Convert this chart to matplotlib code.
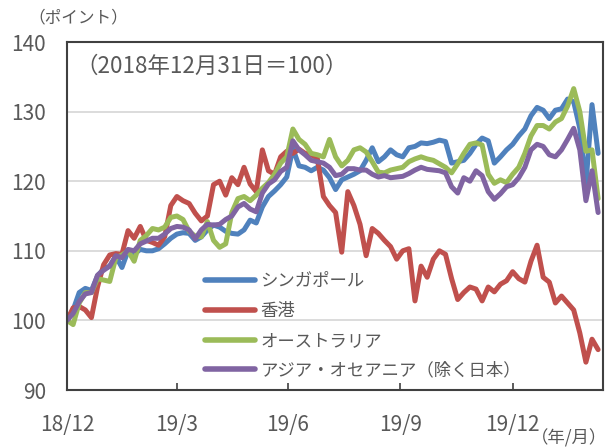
import matplotlib
matplotlib.use("Agg")
import matplotlib.pyplot as plt
import pandas as pd

plt.rcParams['font.family'] = ['Noto Sans CJK JP', 'DejaVu Sans']

dates = pd.date_range('2018-12-31', periods=88, freq='5D')

singapore = [100, 101.5, 104, 104.6, 104.3, 106.4, 107.4, 107.8, 109.2, 107.6,
             110, 109.5, 110.2, 110, 110, 110.3, 111, 111.8, 112.4, 112.6,
             112.5, 111.5, 112, 113, 113.7, 113.4, 112.8, 112.5, 112.4, 113,
             114.4, 114, 116.3, 117.8, 118.6, 119.5, 120.6, 124.7, 122.2, 122,
             121.5, 122, 121.6, 120.5, 118.8, 120.2, 120.6, 121, 121.5, 123,
             124.8, 122.8, 123.5, 124.5, 123.8, 123.5, 124.8, 125, 125.5, 125.4,
             125.6, 125.9, 125.7, 122.6, 122.8, 123, 124, 125.3, 126.2, 125.8,
             122.6, 123.5, 124.5, 125.3, 126.5, 127.5, 129.4, 130.6, 130.2, 129,
             130.2, 130.4, 131.8, 131.4, 127.6, 119.5, 131, 124]

hongkong = [100, 101.8, 102, 101.5, 100.4, 104.8, 108, 109.4, 109.6, 109.5,
            112.9, 111.8, 113.5, 111.5, 111.2, 110.8, 112, 116.5, 117.8, 117.2,
            116.8, 115.4, 114.3, 115, 119.5, 120, 118, 120.5, 119.5, 122,
            119.6, 118.5, 124.5, 121.5, 121, 123.5, 124.3, 124, 124.6, 124,
            123.8, 123.3, 117.8, 116.5, 115.5, 109.8, 118.5, 116.5, 113.8, 109.3,
            113.2, 112.5, 111.5, 110.6, 108.8, 110, 110.3, 102.8, 107.8, 106.2,
            108.8, 110, 109.5, 106, 103, 104, 104.8, 104.5, 102.8, 104.8,
            104.1, 105.2, 105.7, 107, 106, 105.5, 108.5, 110.8, 106.2, 105.5,
            102.5, 103.5, 102.5, 101.5, 98.2, 94, 97.3, 95.8]

australia = [100, 99.4, 102.5, 104, 104, 106, 105.8, 105.6, 109, 109.4,
             110, 108.5, 111.5, 112.2, 113.2, 113, 113.4, 114.8, 115, 114.5,
             112.8, 112.1, 112, 114.2, 111.5, 110.5, 111, 115.5, 117.5, 117.8,
             117.2, 118, 119, 119.8, 121, 122.6, 123.5, 127.5, 126, 125.3,
             124, 123.8, 123.5, 126, 123.5, 122.2, 123, 124.5, 124.8, 124.2,
             122.8, 121.3, 121.2, 121.6, 121.8, 122, 122.8, 123.2, 123.5, 123.2,
             123, 122.5, 122, 121.2, 122.5, 124, 125.3, 125.5, 125.2, 121,
             119.7, 120.2, 119.8, 121, 122, 124, 126.5, 128, 128, 127.5,
             128.5, 129, 130.8, 133.3, 130, 124.3, 124.5, 117.5]

asia_oceania = [100, 101, 102.7, 103.8, 104, 106.5, 107.2, 107.8, 109.3, 109,
                110.2, 110, 111, 111.4, 111.8, 111.8, 112.4, 113.2, 113.5, 113.4,
                113, 111.7, 113, 113.8, 113.7, 113.8, 114.5, 115, 116.3, 116.8,
                116, 115.6, 118.3, 119.6, 120.2, 121.4, 122, 125.8, 124.5, 123.8,
                123, 122.8, 122.6, 122, 120.8, 121, 121.8, 121.8, 121.6, 121.6,
                121, 120.6, 120.8, 120.5, 120.6, 120.7, 121.1, 121.6, 122, 121.7,
                121.6, 121.5, 121.2, 119.2, 118.3, 120.5, 120, 121.5, 120.8, 118.5,
                117.4, 118.2, 119.2, 119.5, 120.5, 122, 124.5, 125.3, 125, 123.8,
                123.5, 124.5, 126, 127.6, 124.5, 117.2, 121.5, 115.5]

series_names = ['シンガポール', '香港', 'オーストラリア', 'アジア・オセアニア（除く日本）']
series_colors = ['#4F81BD', '#C0504D', '#9BBB59', '#8064A2']

tick_dates = ['2018-12-31', '2019-03-31', '2019-06-30', '2019-09-30', '2019-12-31']
tick_labels = ['18/12', '19/3', '19/6', '19/9', '19/12']
y_ticks = [90, 100, 110, 120, 130, 140]

text_color = '#595959'

fig = plt.figure(figsize=(6.15, 4.48), dpi=100)
ax = fig.add_axes([67/615, 58/448, 536/615, 348/448])

for vals, name, col in zip([singapore, hongkong, australia, asia_oceania],
                           series_names, series_colors):
    ax.plot(dates, vals, color=col, lw=3.6, label=name,
            solid_capstyle='round', solid_joinstyle='round')

ax.set_ylim(90, 140)
ax.set_xlim(pd.Timestamp('2018-12-31'), pd.Timestamp('2020-03-14'))
ax.set_yticks(y_ticks)
ax.set_yticklabels([str(v) for v in y_ticks])
ax.set_xticks(pd.to_datetime(tick_dates))
ax.set_xticklabels(tick_labels)

for v in y_ticks[1:-1]:
    ax.axhline(v, color='#D9D9D9', lw=1.3, zorder=0)

for s in ax.spines.values():
    s.set_color('#404040')
    s.set_linewidth(1.5)

ax.tick_params(axis='y', length=0, pad=15, labelsize=15, labelcolor=text_color)
ax.tick_params(axis='x', direction='in', length=5, width=1.2, color='#404040',
               pad=17, labelsize=15, labelcolor=text_color)

ax.text(0.015, 0.93, '（2018年12月31日＝100）', transform=ax.transAxes,
        fontsize=16.2, color=text_color, va='center', ha='left')
fig.text(28/615, 1 - 18/448, '（ポイント）', fontsize=12, color=text_color,
         va='center', ha='left')
fig.text(607/615, 1 - 438/448, '（年/月）', fontsize=12.5, color=text_color,
         va='center', ha='right')

leg = ax.legend(loc='upper left', bbox_to_anchor=((205-67)/536, (390-272)/348),
                frameon=False, fontsize=12.5, handlelength=2.9, handletextpad=0.3,
                labelspacing=0.68, borderaxespad=0, borderpad=0)
for t in leg.get_texts():
    t.set_color(text_color)
for l in leg.get_lines():
    l.set_linewidth(4)

fig.savefig('out.png', dpi=100)
